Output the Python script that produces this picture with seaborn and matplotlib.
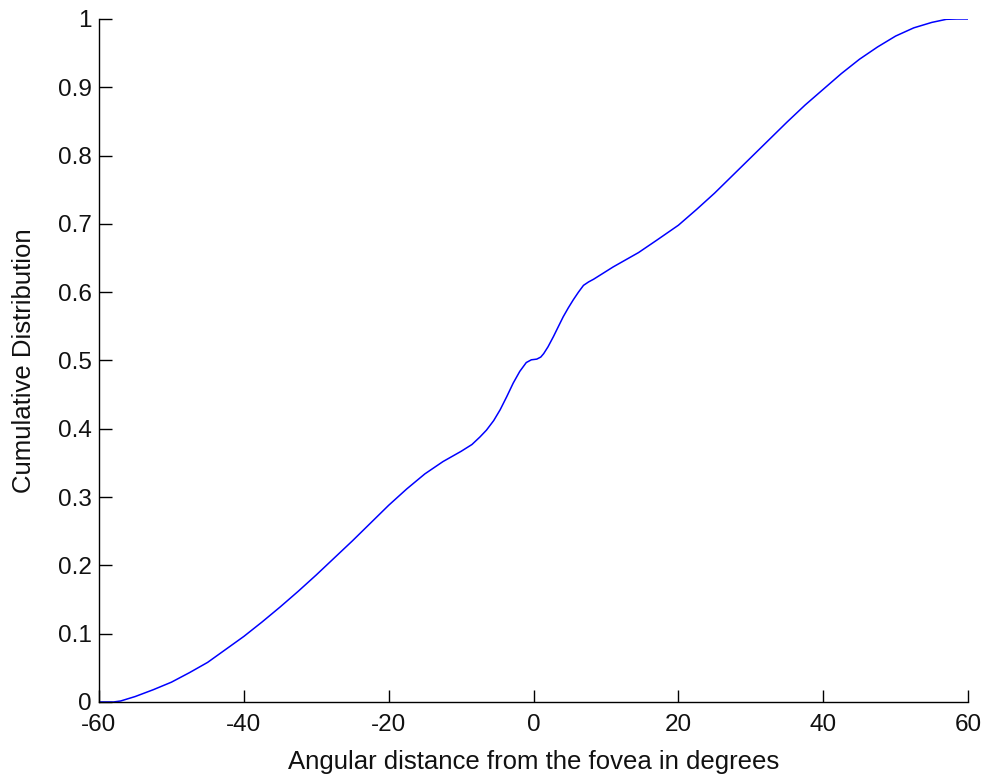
import matplotlib
matplotlib.use("Agg")
import matplotlib.pyplot as plt
import seaborn as sns
import pandas as pd

# Cumulative distribution of angular distance from the fovea
angle_deg = [-60, -58, -57, -55, -52.5, -50, -47.5, -45, -42.5, -40, -37.5, -35,
             -32.5, -30, -27.5, -25, -22.5, -20, -17.5, -15, -12.5, -10, -8.5, -7.4,
             -6.5, -5.5, -4.6, -3.7, -2.8, -1.9, -1.0, -0.3, 0.45, 1.0, 1.4, 2.0,
             2.75, 3.4, 4.1, 4.8, 5.5, 6.2, 6.9, 7.6, 8.3, 9.5, 11, 12.5, 14.5,
             17, 20, 22.5, 25, 27.5, 30, 32.5, 35, 37.5, 40, 42.5, 45, 47.5,
             50, 52.5, 55, 57, 58.5, 60]
cdf = [0.0, 0.0, 0.0015, 0.008, 0.018, 0.029, 0.043, 0.058, 0.077, 0.096, 0.117, 0.139,
       0.162, 0.186, 0.211, 0.236, 0.262, 0.288, 0.312, 0.334, 0.352, 0.367, 0.377, 0.388,
       0.398, 0.412, 0.428, 0.447, 0.467, 0.484, 0.497, 0.501, 0.502, 0.505, 0.51, 0.52,
       0.535, 0.549, 0.564, 0.577, 0.589, 0.600, 0.610, 0.615, 0.619, 0.627, 0.637, 0.646, 0.658,
       0.676, 0.698, 0.721, 0.745, 0.771, 0.797, 0.823, 0.849, 0.874, 0.897, 0.920, 0.941, 0.959,
       0.975, 0.987, 0.995, 0.9995, 1.0, 1.0]

x_ticks = [-60, -40, -20, 0, 20, 40, 60]
y_ticks = [0, 0.1, 0.2, 0.3, 0.4, 0.5, 0.6, 0.7, 0.8, 0.9, 1]
y_tick_labels = ["0", "0.1", "0.2", "0.3", "0.4", "0.5", "0.6", "0.7", "0.8", "0.9", "1"]

df = pd.DataFrame({"angle": angle_deg, "cdf": cdf})

sns.set_style("white")
plt.rcParams["font.family"] = ["Liberation Sans", "DejaVu Sans"]

fig = plt.figure(figsize=(9.88, 7.78), dpi=100)
ax = fig.add_axes([0.1002, 0.0977, 0.8796, 0.8779])

sns.lineplot(data=df, x="angle", y="cdf", ax=ax, color="#0000ff",
             linewidth=1.1, estimator=None, sort=False)

ax.set_xlim(-60, 60)
ax.set_ylim(0, 1)
ax.set_xticks(x_ticks)
ax.set_xticklabels([str(t) for t in x_ticks])
ax.set_yticks(y_ticks)
ax.set_yticklabels(y_tick_labels)

for side in ("top", "right"):
    ax.spines[side].set_visible(False)
for side in ("left", "bottom"):
    ax.spines[side].set_color("black")
    ax.spines[side].set_linewidth(1.0)

ax.tick_params(axis="both", direction="in", length=9, width=1.0,
               bottom=True, left=True, top=False, right=False,
               colors="black", labelcolor="#111111", labelsize=17.5, pad=5)
ax.tick_params(axis="x", pad=9)

ax.set_xlabel("Angular distance from the fovea in degrees", fontsize=18.5,
              color="#111111", labelpad=10)
ax.set_ylabel("Cumulative Distribution", fontsize=18.5, color="#111111",
              labelpad=16)

fig.savefig("out.png", dpi=100, facecolor="white")
